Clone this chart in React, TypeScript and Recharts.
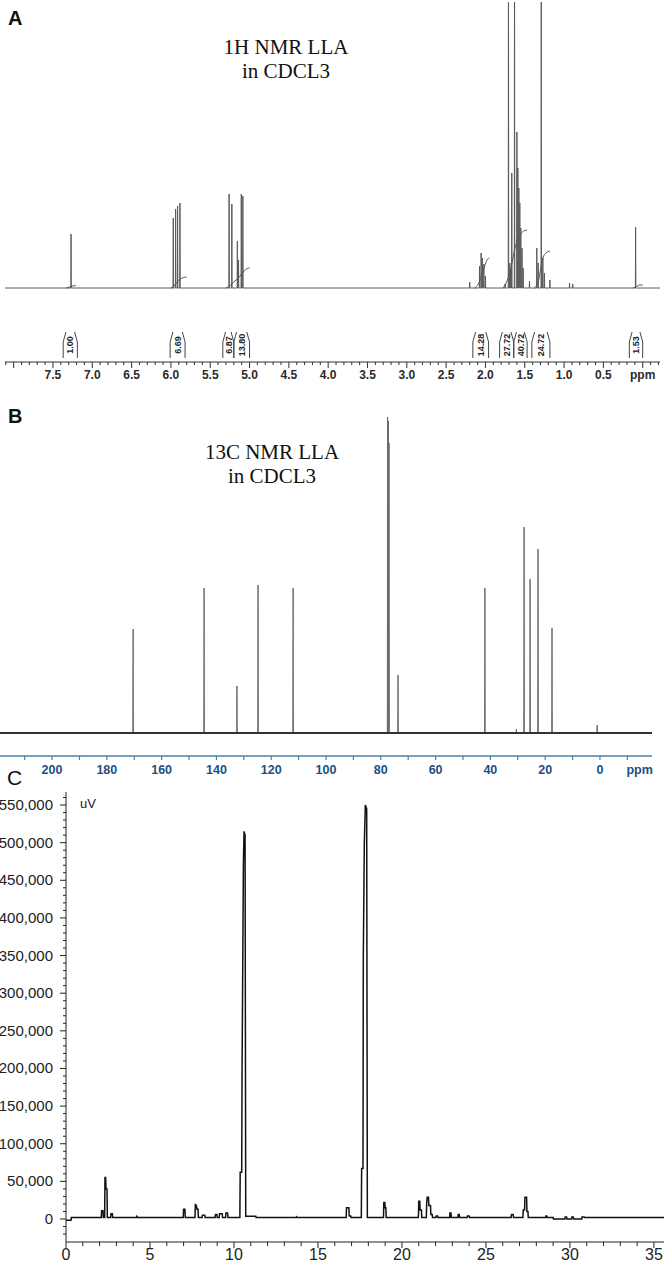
import React from "react"
import { LineChart, Line, XAxis, YAxis, ReferenceLine, ReferenceArea } from "recharts"

// ---------- A: 1H NMR (ppm, relative height) ----------
const protonPpm = [
  7.27, 5.97, 5.94, 5.915, 5.885, 5.26, 5.225, 5.155, 5.14, 5.105, 5.085,
  2.2, 2.075, 2.055, 2.04, 2.02, 2.0, 1.75, 1.707, 1.69, 1.68, 1.665, 1.63,
  1.6, 1.588, 1.575, 1.563, 1.55, 1.535, 1.52, 1.44, 1.347, 1.33, 1.29, 1.27,
  1.25, 1.18, 0.93, 0.89, 0.09,
]
const protonHeight = [
  54, 70, 79, 82, 85, 94, 84, 47, 28, 94, 92,
  6, 22, 35, 30, 24, 12, 4, 400, 25, 18, 115, 400,
  156, 120, 100, 85, 60, 40, 20, 7, 40, 25, 400, 30,
  15, 8, 5, 4, 61,
]
const protonIntegralStart = [7.37, 6.01, 5.34, 5.2, 2.16, 1.82, 1.64, 1.41, 0.17]
const protonIntegralEnd = [7.19, 5.82, 5.2, 5.0, 1.96, 1.64, 1.47, 1.18, 0.0]
const protonIntegralLabels = ["1.00", "6.69", "6.87", "13.80", "14.28", "27.72", "40.72", "24.72", "1.53"]
const protonIntegralCurves = [
  [[7.33, 0], [7.29, 1], [7.25, 2], [7.21, 2.5]],
  [[6.0, 0], [5.96, 2], [5.92, 6], [5.88, 9], [5.84, 10.5], [5.8, 11]],
  [[5.3, 0], [5.24, 3], [5.2, 6], [5.12, 12], [5.07, 17], [5.03, 19.5], [5.0, 20]],
  [[2.14, 0], [2.09, 4], [2.05, 12], [2.01, 22], [1.98, 28], [1.95, 30]],
  [[1.78, 0], [1.72, 8], [1.67, 22], [1.63, 38], [1.58, 50], [1.53, 56], [1.47, 58]],
  [[1.38, 0], [1.33, 6], [1.3, 18], [1.27, 30], [1.23, 35], [1.18, 37]],
  [[0.12, 0], [0.08, 1.5], [0.04, 3], [0.0, 3]],
]

// ---------- B: 13C NMR ----------
const carbonPpm = [170.4, 144.5, 132.5, 124.8, 112.0, 77.5, 77.25, 77.0, 73.7, 42.0, 30.5, 27.7, 25.5, 22.6, 17.5, 1.0]
const carbonHeight = [104, 145, 47, 148, 145, 316, 312, 290, 58, 145, 4, 206, 154, 184, 105, 8]

// ---------- C: chromatogram (min, uV) ----------
const chromTime = [
  0, 0.3, 0.32,
  2.1, 2.12, 2.2, 2.22,
  2.3, 2.32, 2.36, 2.38, 2.44, 2.46,
  2.66, 2.68, 2.76, 2.78,
  4.2, 4.22, 4.26,
  6.98, 7.0, 7.08, 7.1,
  7.68, 7.7, 7.76, 7.8, 7.86, 7.88,
  8.1, 8.12, 8.26, 8.28,
  8.88, 8.9, 8.98, 9.0,
  9.12, 9.14, 9.3, 9.32,
  9.5, 9.52, 9.62, 9.64,
  10.35, 10.37, 10.46, 10.48, 10.52, 10.56, 10.6, 10.66, 10.7, 11.3, 11.32,
  13.7, 13.72, 13.76,
  16.68, 16.7, 16.84, 16.86, 16.95, 16.97,
  17.58, 17.6, 17.68, 17.7, 17.76, 17.82, 17.9, 17.94,
  18.9, 18.92, 18.98, 19.0, 19.04, 19.06,
  20.98, 21.0, 21.06, 21.08, 21.16, 21.18,
  21.45, 21.47, 21.5, 21.58, 21.6, 21.7, 21.72, 21.8, 21.82,
  22.02, 22.04, 22.12, 22.14,
  22.84, 22.86, 22.92, 22.94,
  23.33, 23.35, 23.41, 23.43,
  23.88, 23.9, 24.0, 24.02,
  26.5, 26.52, 26.62, 26.64,
  27.2, 27.22, 27.3, 27.32, 27.42, 27.44, 27.5, 27.52,
  28.55, 28.57, 28.62, 28.64,
  29.0, 29.02, 29.7, 29.72, 29.8, 29.82, 30.1, 30.12, 30.2, 30.22, 30.7, 30.72, 30.85, 30.87,
  35.6,
]
const chromSignal = [
  -1500, -1500, 2000,
  2000, 11000, 11000, 2000,
  2000, 55000, 55000, 40000, 40000, 2000,
  2000, 7000, 7000, 2000,
  2000, 3500, 2000,
  2000, 13000, 13000, 2000,
  2000, 19000, 18000, 13000, 13000, 2000,
  2000, 5000, 5000, 2000,
  2000, 6000, 6000, 2000,
  2000, 7000, 7000, 2000,
  2000, 8000, 8000, 2000,
  2000, 62000, 62000, 195000, 330000, 470000, 515000, 510000, 3500, 3500, 2000,
  2000, 3000, 2000,
  2000, 15000, 15000, 4000, 4000, 2000,
  2000, 67000, 67000, 350000, 500000, 550000, 545000, 2000,
  2000, 22000, 22000, 15000, 15000, 2000,
  2000, 23500, 23500, 12000, 12000, 2000,
  2000, 20000, 29000, 29000, 18000, 18000, 6000, 6000, 2000,
  2000, 4000, 4000, 2000,
  2000, 8000, 8000, 2000,
  2000, 6000, 6000, 2000,
  2000, 4000, 4000, 2000,
  2000, 6000, 6000, 2000,
  2000, 12000, 12000, 29000, 29000, 10000, 10000, 2000,
  2000, 4000, 4000, 2000,
  2000, 0, 0, 2500, 2500, 0, 0, 2500, 2500, 0, 0, 2500, 2500, 2000,
  2000,
]

const SANS = "'Liberation Sans', Arial, sans-serif"
const SERIF = "'Liberation Serif', 'Times New Roman', serif"

// stick spectrum: each line is a narrow spike on a flat baseline
function sticks(ppm: number[], height: number[], hw: number, from: number, to: number) {
  const pts = [{ x: from, y: 0 }, { x: to, y: 0 }]
  ppm.forEach((p, i) => {
    pts.push({ x: p + hw, y: 0 }, { x: p, y: height[i] }, { x: p - hw, y: 0 })
  })
  return pts.sort((a, b) => b.x - a.x)
}

const protonData = sticks(protonPpm, protonHeight, 0.003, 8.11, -0.22)
const carbonData = sticks(carbonPpm, carbonHeight, 0.12, 219, -19)
const chromData = chromTime.map((t, i) => ({ t, v: chromSignal[i] }))

const protonTicks = Array.from({ length: 84 }, (_, i) => +(8.1 - i * 0.1).toFixed(1))
const carbonTicks = [...Array.from({ length: 23 }, (_, i) => 210 - i * 10), -14.5]
const chromXTicks = Array.from({ length: 36 }, (_, i) => i)
const chromYTicks = Array.from({ length: 59 }, (_, i) => (i - 2) * 10000)

function ProtonTick(props: any) {
  const { x, y, payload } = props
  const v = payload.value
  const major = Math.abs(v * 2 - Math.round(v * 2)) < 1e-6
  let label = ""
  if (Math.abs(v) < 1e-6) label = "ppm"
  else if (major && v <= 7.5) label = v.toFixed(1)
  return (
    <g>
      <line x1={x} x2={x} y1={y} y2={y + (major ? 6 : 3)} stroke="#333" strokeWidth={1} />
      {label && (
        <text x={x} y={y + 17} textAnchor="middle" fontSize={12} fontWeight={700} fill="#2a2a2a" fontFamily={SANS}>
          {label}
        </text>
      )}
    </g>
  )
}

function CarbonTick(props: any) {
  const { x, y, payload } = props
  const v = payload.value
  if (v === -14.5) {
    return (
      <text x={x} y={y + 18} textAnchor="middle" fontSize={12.5} fontWeight={700} fill="#1d4f82" fontFamily={SANS}>
        ppm
      </text>
    )
  }
  const label = v >= 0 && v <= 200 && v % 20 === 0 ? String(v) : ""
  return (
    <g>
      <line x1={x} x2={x} y1={y} y2={y + 4} stroke="#4a7fa8" strokeWidth={1.2} />
      {label && (
        <text x={x} y={y + 18} textAnchor="middle" fontSize={12.5} fontWeight={700} fill="#1d4f82" fontFamily={SANS}>
          {label}
        </text>
      )}
    </g>
  )
}

function ChromXTick(props: any) {
  const { x, y, payload } = props
  const v = payload.value
  const major = v % 5 === 0
  return (
    <g>
      <line x1={x} x2={x} y1={y} y2={y + (major ? 6 : 4)} stroke="#222" />
      {major && (
        <text x={x} y={y + 18} textAnchor="middle" fontSize={16} fill="#222" fontFamily={SANS}>
          {v}
        </text>
      )}
    </g>
  )
}

function ChromYTick(props: any) {
  const { x, y, payload } = props
  const v = payload.value
  const major = v % 50000 === 0
  return (
    <g>
      <line x1={x - (major ? 6 : 3)} x2={x} y1={y} y2={y} stroke="#222" />
      {major && v >= 0 && (
        <text x={x - 13} y={y + 5} textAnchor="end" fontSize={15} fill="#222" fontFamily={SANS}>
          {v.toLocaleString("en-US")}
        </text>
      )}
    </g>
  )
}

function ProtonPanel() {
  return (
    <LineChart width={664} height={392} margin={{ top: 2, right: 4, bottom: 0, left: 5 }}>
      <XAxis
        type="number"
        dataKey="x"
        domain={[-0.22, 8.11]}
        reversed
        allowDataOverflow
        ticks={protonTicks}
        interval={0}
        tick={ProtonTick}
        tickLine={false}
        tickSize={0}
        tickMargin={0}
        height={30}
        axisLine={{ stroke: "#333" }}
      />
      <YAxis hide type="number" domain={[-74, 286]} allowDataOverflow />
      <Line data={protonData} dataKey="y" type="linear" stroke="#5a5a5a" strokeWidth={1} dot={false} activeDot={false} isAnimationActive={false} />
      {protonIntegralCurves.map((curve, i) => (
        <Line
          key={`ic${i}`}
          data={curve.map(([x, y]) => ({ x, y }))}
          dataKey="y"
          type="monotone"
          stroke="#555"
          strokeWidth={1}
          dot={false}
          activeDot={false}
          isAnimationActive={false}
        />
      ))}
      {protonIntegralStart.map((a, i) => {
        const b = protonIntegralEnd[i]
        return (
          <React.Fragment key={`br${i}`}>
            <ReferenceLine segment={[{ x: a, y: -70 }, { x: a, y: -54 }]} stroke="#444" />
            <ReferenceLine segment={[{ x: a, y: -54 }, { x: a - 0.035, y: -44 }]} stroke="#444" />
            <ReferenceLine segment={[{ x: b, y: -70 }, { x: b, y: -54 }]} stroke="#444" />
            <ReferenceLine segment={[{ x: b, y: -54 }, { x: b + 0.035, y: -44 }]} stroke="#444" />
            <ReferenceArea
              x1={a}
              x2={b}
              y1={-70}
              y2={-44}
              fillOpacity={0}
              strokeOpacity={0}
              label={{
                value: protonIntegralLabels[i],
                angle: -90,
                position: "center",
                fontSize: 9,
                fontWeight: 700,
                fill: "#222",
                fontFamily: SANS,
              }}
            />
          </React.Fragment>
        )
      })}
    </LineChart>
  )
}

function CarbonPanel() {
  return (
    <LineChart width={664} height={385} margin={{ top: 0, right: 12, bottom: 0, left: 0 }}>
      <XAxis
        type="number"
        dataKey="x"
        domain={[-19, 219]}
        reversed
        allowDataOverflow
        ticks={carbonTicks}
        interval={0}
        tick={CarbonTick}
        tickLine={false}
        tickSize={0}
        tickMargin={0}
        height={24}
        axisLine={{ stroke: "#4a7fa8", strokeWidth: 1.5 }}
      />
      <YAxis hide type="number" domain={[-23, 338]} allowDataOverflow />
      <Line data={carbonData} dataKey="y" type="linear" stroke="#6a6a6a" strokeWidth={1} dot={false} activeDot={false} isAnimationActive={false} />
      <ReferenceLine y={0} stroke="#333" strokeWidth={2} />
    </LineChart>
  )
}

function ChromPanel() {
  return (
    <LineChart data={chromData} width={664} height={485} margin={{ top: 12, right: 0, bottom: 0, left: 0 }}>
      <XAxis
        type="number"
        dataKey="t"
        domain={[0, 35.6]}
        allowDataOverflow
        ticks={chromXTicks}
        interval={0}
        tick={ChromXTick}
        tickLine={false}
        tickSize={0}
        tickMargin={0}
        height={23}
        axisLine={{ stroke: "#222" }}
      />
      <YAxis
        type="number"
        domain={[-30550, 567300]}
        allowDataOverflow
        ticks={chromYTicks}
        interval={0}
        tick={ChromYTick}
        tickLine={false}
        tickSize={0}
        tickMargin={0}
        width={66}
        axisLine={{ stroke: "#222" }}
      />
      <Line dataKey="v" type="linear" stroke="#111" strokeWidth={1.5} dot={false} activeDot={false} isAnimationActive={false} />
    </LineChart>
  )
}

function Title({ x, y, lines }: { x: number; y: number; lines: string[] }) {
  return (
    <>
      {lines.map((s, i) => (
        <text key={s} x={x} y={y + i * 24} textAnchor="middle" fontSize={21} fontFamily={SERIF} fill="#111">
          {s}
        </text>
      ))}
    </>
  )
}

export default function App() {
  return (
    <div style={{ position: "relative", width: 664, height: 1265, overflow: "hidden", background: "#fff" }}>
      <style>{"body{margin:0}"}</style>
      <div style={{ position: "absolute", left: 0, top: 0 }}>
        <ProtonPanel />
      </div>
      <div style={{ position: "absolute", left: 0, top: 395 }}>
        <CarbonPanel />
      </div>
      <div style={{ position: "absolute", left: 0, top: 780 }}>
        <ChromPanel />
      </div>
      <svg width={664} height={1265} style={{ position: "absolute", left: 0, top: 0, pointerEvents: "none" }}>
        <text x={8} y={25} fontSize={20} fontWeight={700} fontFamily={SANS} fill="#111">A</text>
        <Title x={286} y={54} lines={["1H NMR LLA", "in CDCL3"]} />
        <text x={8} y={423} fontSize={20} fontWeight={700} fontFamily={SANS} fill="#111">B</text>
        <Title x={272} y={459} lines={["13C NMR LLA", "in CDCL3"]} />
        <text x={7} y={785} fontSize={21} fontFamily={SANS} fill="#111">C</text>
        <text x={80} y={808} fontSize={13} fontFamily={SANS} fill="#222">uV</text>
      </svg>
    </div>
  )
}
